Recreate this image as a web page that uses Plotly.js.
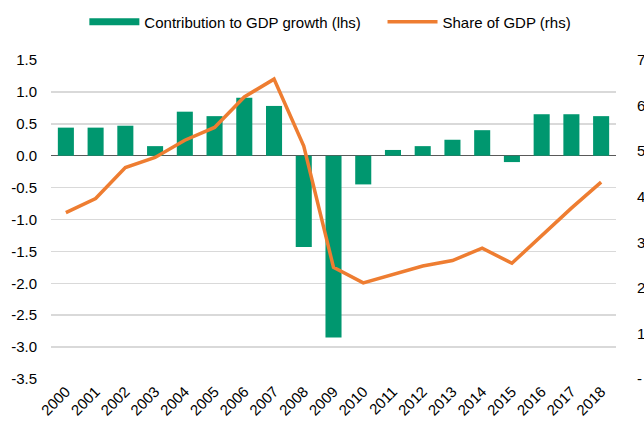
<!DOCTYPE html>
<html>
<head>
<meta charset="utf-8">
<script src="https://cdn.plot.ly/plotly-3.0.1.min.js"></script>
<style>html,body{margin:0;padding:0;background:#fff;}#chart{width:644px;height:422px;}</style>
</head>
<body>
<div id="chart"></div>
<script>
var years = ["2000","2001","2002","2003","2004","2005","2006","2007","2008","2009","2010","2011","2012","2013","2014","2015","2016","2017","2018"];
var contribution = [0.44,0.44,0.47,0.15,0.69,0.62,0.91,0.78,-1.43,-2.85,-0.45,0.09,0.15,0.25,0.40,-0.10,0.65,0.65,0.62];
var shareOfGDP = [3.65,3.96,4.64,4.86,5.24,5.52,6.19,6.58,5.11,2.45,2.11,2.30,2.48,2.60,2.87,2.54,3.15,3.75,4.32];
var leftTicks = [-3.5,-3.0,-2.5,-2.0,-1.5,-1.0,-0.5,0.0,0.5,1.0,1.5];
var rightTicks = [0,1,2,3,4,5,6,7];
var rightTickText = ["-","1","2","3","4","5","6","7"];
var barName = "Contribution to GDP growth (lhs)";
var lineName = "Share of GDP (rhs)";

var green = "#00976F", orange = "#EE7D31";
var font = {family: "Liberation Sans, Arial, sans-serif", size: 15, color: "#000"};

var traces = [
  {type: "bar", x: years, y: contribution, marker: {color: green}, showlegend: false, name: barName},
  {type: "scatter", mode: "lines", x: years, y: shareOfGDP, yaxis: "y2", line: {color: orange, width: 3.5}, showlegend: false, name: lineName},
  {type: "scatter", mode: "lines", x: [null], y: [null], line: {color: green, width: 7}, name: barName + "\u00a0\u00a0\u00a0\u00a0", showlegend: true},
  {type: "scatter", mode: "lines", x: [null], y: [null], yaxis: "y2", line: {color: orange, width: 3.5}, name: lineName, showlegend: true}
];

var layout = {
  width: 644, height: 422,
  margin: {l: 51, r: 28, t: 60, b: 43, pad: 0},
  paper_bgcolor: "#fff", plot_bgcolor: "#fff",
  font: font,
  bargap: 0.46,
  showlegend: true,
  legend: {orientation: "h", x: 0.131, xanchor: "left", xref: "container", y: 0.948, yanchor: "middle", yref: "container", font: font, itemwidth: 50, traceorder: "normal", bgcolor: "rgba(0,0,0,0)"},
  xaxis: {type: "category", tickangle: -45, tickfont: font, showgrid: false, ticks: "", showline: false, automargin: false},
  yaxis: {range: [-3.5, 1.5], tickvals: leftTicks, ticktext: leftTicks.map(function(v){return v.toFixed(1);}), tickfont: font, showgrid: true, gridcolor: "#D9D9D9", gridwidth: 1.5, zeroline: true, zerolinecolor: "#595959", zerolinewidth: 1.5, ticklabelstandoff: 13, automargin: false},
  yaxis2: {overlaying: "y", side: "right", range: [0, 7], tickvals: rightTicks, ticktext: rightTickText, tickfont: font, showgrid: false, zeroline: false, ticklabelstandoff: 20, automargin: false}
};

Plotly.newPlot("chart", traces, layout, {displayModeBar: false, staticPlot: true});
</script>
</body>
</html>
